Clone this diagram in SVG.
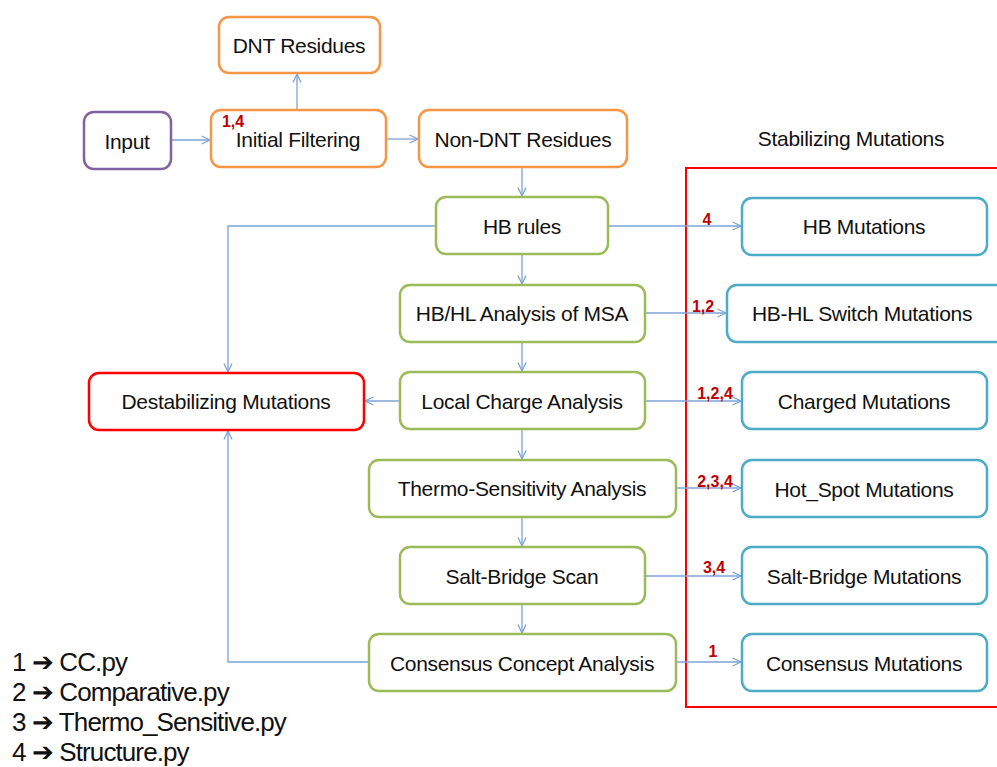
<svg xmlns="http://www.w3.org/2000/svg" width="997" height="767" viewBox="0 0 997 767">
<style>
.box{fill:#fff;stroke-width:2.5}
.or{stroke:#F79646}.pu{stroke:#8064A2}.gr{stroke:#9BBB59}.bl{stroke:#4BACC6}.rd{stroke:#FF0000}
.t{font-family:"Liberation Sans",Arial,sans-serif;font-size:21px;letter-spacing:-0.3px;fill:#111;text-anchor:middle;dominant-baseline:central}
.n{font-family:"Liberation Sans",Arial,sans-serif;font-size:16px;font-weight:bold;fill:#C00000;text-anchor:middle}
.lg{font-family:"Liberation Sans",Arial,sans-serif;font-size:26px;letter-spacing:-0.9px;fill:#111}
.c{fill:none;stroke:#7EA3D4;stroke-width:1.3;marker-end:url(#ah)}
</style>
<defs>
<marker id="ah" viewBox="0 0 10 10" refX="9.5" refY="5" markerWidth="10" markerHeight="10" markerUnits="userSpaceOnUse" orient="auto">
<polyline points="1,1 9.5,5 1,9" fill="none" stroke="#7EA3D4" stroke-width="1.3"/>
</marker>
</defs>
<rect width="997" height="767" fill="#fff"/>
<g id="stabilizing-frame">
<rect x="686" y="168" width="320" height="539" fill="none" stroke="#FF0000" stroke-width="2"/>
<text class="t" x="851" y="138">Stabilizing Mutations</text>
</g>
<g id="connectors">
<path class="c" d="M171,140 H210"/>
<path class="c" d="M297,110 V74"/>
<path class="c" d="M386,139 H418"/>
<path class="c" d="M522,167 V196"/>
<path class="c" d="M522,254 V284"/>
<path class="c" d="M522,342 V371"/>
<path class="c" d="M522,429 V459"/>
<path class="c" d="M522,517 V546"/>
<path class="c" d="M522,604 V633"/>
<path class="c" d="M436,226 H228 V372"/>
<path class="c" d="M400,401 H365"/>
<path class="c" d="M369,662 H228 V431"/>
<path class="c" d="M608,226 H741"/>
<path class="c" d="M645,313 H726"/>
<path class="c" d="M645,401 H741"/>
<path class="c" d="M676,488 H741"/>
<path class="c" d="M645,576 H741"/>
<path class="c" d="M676,662 H741"/>
<text class="n" x="707" y="225">4</text>
<text class="n" x="703" y="312">1,2</text>
<text class="n" x="715" y="399">1,2,4</text>
<text class="n" x="715" y="487">2,3,4</text>
<text class="n" x="714" y="573">3,4</text>
<text class="n" x="713" y="657">1</text>
</g>
<g id="dnt"><rect class="box or" x="219" y="17" width="161" height="56" rx="10"/><text class="t" x="299" y="45">DNT Residues</text></g>
<g id="input"><rect class="box pu" x="84" y="112" width="87" height="57" rx="10"/><text class="t" x="127" y="141">Input</text></g>
<g id="initial"><rect class="box or" x="211" y="110" width="175" height="57" rx="10"/><text class="t" x="298" y="139">Initial Filtering</text><text class="n" x="233" y="127">1,4</text></g>
<g id="nondnt"><rect class="box or" x="419" y="110" width="208" height="57" rx="10"/><text class="t" x="523" y="139">Non-DNT Residues</text></g>
<g id="hbrules"><rect class="box gr" x="436" y="197" width="172" height="57" rx="10"/><text class="t" x="522" y="226">HB rules</text></g>
<g id="hbhl"><rect class="box gr" x="400" y="285" width="245" height="57" rx="10"/><text class="t" x="522" y="313">HB/HL Analysis of MSA</text></g>
<g id="localcharge"><rect class="box gr" x="400" y="372" width="245" height="57" rx="10"/><text class="t" x="522" y="401">Local Charge Analysis</text></g>
<g id="thermo"><rect class="box gr" x="369" y="460" width="307" height="57" rx="10"/><text class="t" x="522" y="488">Thermo-Sensitivity Analysis</text></g>
<g id="saltbridge"><rect class="box gr" x="400" y="547" width="245" height="57" rx="10"/><text class="t" x="522" y="576">Salt-Bridge Scan</text></g>
<g id="consensus"><rect class="box gr" x="369" y="634" width="307" height="57" rx="10"/><text class="t" x="522" y="663">Consensus Concept Analysis</text></g>
<g id="destab"><rect class="box rd" x="89" y="373" width="275" height="57" rx="10"/><text class="t" x="226" y="401">Destabilizing Mutations</text></g>
<g id="hbmut"><rect class="box bl" x="742" y="198" width="245" height="57" rx="10"/><text class="t" x="864" y="226">HB Mutations</text></g>
<g id="hbhlmut"><rect class="box bl" x="727" y="285" width="280" height="57" rx="10"/><text class="t" x="862" y="313">HB-HL Switch Mutations</text></g>
<g id="chargedmut"><rect class="box bl" x="742" y="372" width="245" height="57" rx="10"/><text class="t" x="864" y="401">Charged Mutations</text></g>
<g id="hotspotmut"><rect class="box bl" x="742" y="460" width="245" height="57" rx="10"/><text class="t" x="864" y="489">Hot_Spot Mutations</text></g>
<g id="saltmut"><rect class="box bl" x="742" y="547" width="245" height="57" rx="10"/><text class="t" x="864" y="576">Salt-Bridge Mutations</text></g>
<g id="consmut"><rect class="box bl" x="742" y="634" width="245" height="57" rx="10"/><text class="t" x="864" y="663">Consensus Mutations</text></g>
<g id="legend">
<text class="lg" x="12" y="671">1 ➔ CC.py</text>
<text class="lg" x="12" y="701">2 ➔ Comparative.py</text>
<text class="lg" x="12" y="731">3 ➔ Thermo_Sensitive.py</text>
<text class="lg" x="12" y="761">4 ➔ Structure.py</text>
</g>
</svg>
